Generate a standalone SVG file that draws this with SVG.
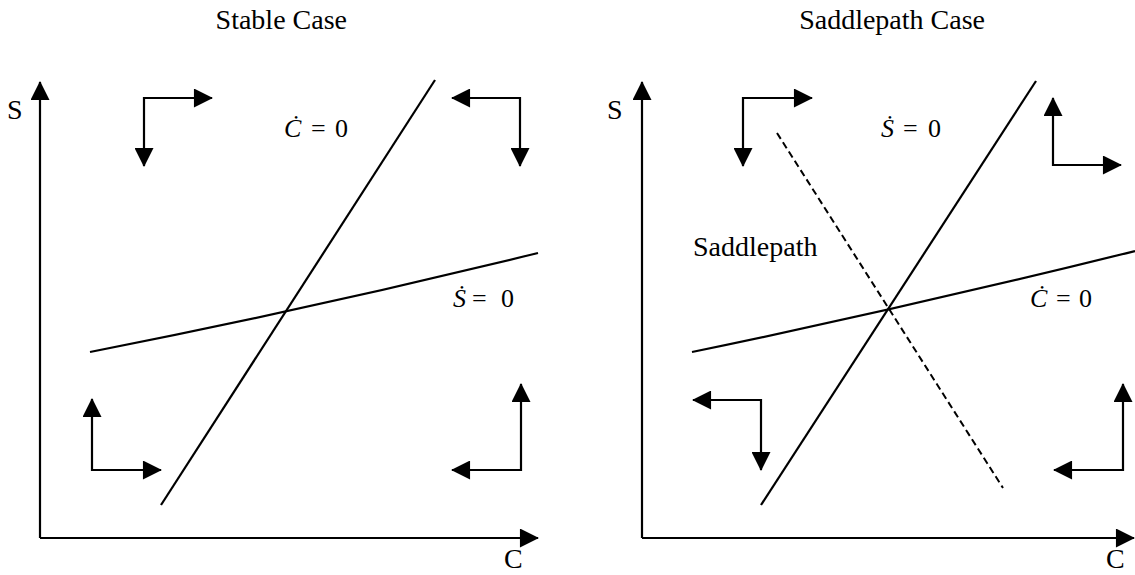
<svg xmlns="http://www.w3.org/2000/svg" width="1135" height="575" viewBox="0 0 1135 575">
<style>
.ln{stroke:#000;stroke-width:2.2;fill:none}
.ar{stroke:#000;stroke-width:2.2;fill:none;marker-end:url(#ah)}
.ar2{stroke:#000;stroke-width:2.2;fill:none;marker-start:url(#ah);marker-end:url(#ah)}
.dash{stroke:#000;stroke-width:2;fill:none;stroke-dasharray:7 4}
.t{font-family:"Liberation Serif","Times New Roman",serif;font-size:28px;fill:#000}
.m{font-family:"Liberation Serif","Times New Roman",serif;font-size:26px;fill:#000}
.i{font-style:italic}
</style>
<defs>
<marker id="ah" viewBox="0 0 20 20" refX="19" refY="10" markerWidth="20" markerHeight="19" markerUnits="userSpaceOnUse" orient="auto-start-reverse">
<path d="M0,0 L20,10 L0,20 Z" fill="#000"/>
</marker>
</defs>
<g id="titles">
<text class="t" x="347" y="29" text-anchor="end">Stable Case</text>
<text class="t" x="985" y="29" text-anchor="end">Saddlepath Case</text>
</g>
<g id="axes-left">
<line class="ar" x1="40" y1="538" x2="40" y2="82"/>
<line class="ar" x1="40" y1="538" x2="538" y2="538"/>
<text class="t" x="7" y="119">S</text>
<text class="t" x="504" y="568">C</text>
</g>
<g id="axes-right">
<line class="ar" x1="642" y1="538" x2="642" y2="82"/>
<line class="ar" x1="642" y1="538" x2="1134" y2="538"/>
<text class="t" x="607" y="119">S</text>
<text class="t" x="1106" y="568">C</text>
</g>
<g id="connectors">
<line id="cdot-left" class="ln" x1="161" y1="505" x2="435" y2="80"/>
<path id="sdot-left" class="ln" d="M90,352 Q314,308 538,253"/>
<line id="sdot-right" class="ln" x1="761" y1="505" x2="1036" y2="81"/>
<path id="cdot-right" class="ln" d="M692,352 Q914,306 1135,251"/>
<line id="saddlepath" class="dash" x1="777" y1="133" x2="1003" y2="488"/>
</g>
<g id="arrows-left">
<polyline class="ar2" points="144,166 144,98 212,98"/>
<polyline class="ar2" points="452,98 520,98 520,166"/>
<polyline class="ar2" points="161,470 92,470 92,399"/>
<polyline class="ar2" points="521,384 521,470 452,470"/>
</g>
<g id="arrows-right">
<polyline class="ar2" points="743,166 743,98 812,98"/>
<polyline class="ar2" points="1053,98 1053,165 1121,165"/>
<polyline class="ar2" points="693,400 761,400 761,470"/>
<polyline class="ar2" points="1123,384 1123,470 1054,470"/>
</g>
<g id="labels">
<text class="m" y="137"><tspan class="i" x="284">Ċ</tspan><tspan x="311">=</tspan><tspan x="335">0</tspan></text>
<text class="m" y="307"><tspan class="i" x="453">Ṡ</tspan><tspan x="472">=</tspan><tspan x="501">0</tspan></text>
<text class="m" y="137"><tspan class="i" x="881">Ṡ</tspan><tspan x="903">=</tspan><tspan x="928">0</tspan></text>
<text class="m" y="307"><tspan class="i" x="1030">Ċ</tspan><tspan x="1056">=</tspan><tspan x="1079">0</tspan></text>
<text class="t" x="693" y="256">Saddlepath</text>
</g>
</svg>
